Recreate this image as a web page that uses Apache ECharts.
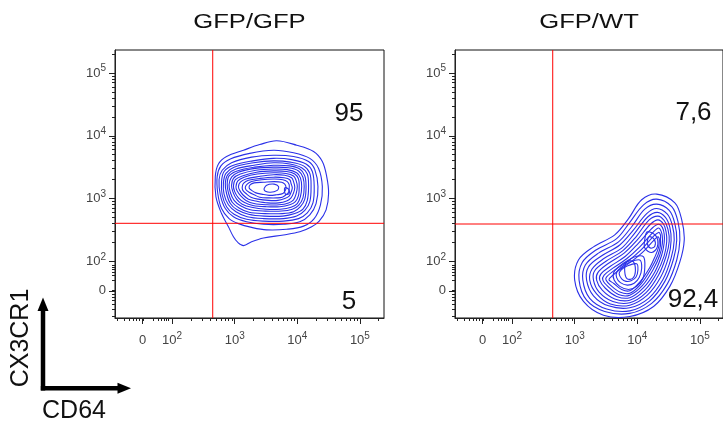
<!DOCTYPE html>
<html>
<head>
<meta charset="utf-8">
<script src="https://cdn.jsdelivr.net/npm/echarts@6.0.0/dist/echarts.min.js"></script>
<style>
html,body{margin:0;padding:0;background:#fff;}
#chart{width:723px;height:423px;}
</style>
</head>
<body>
<div id="chart"></div>
<script>
// ---------- data (axis units: display decades of a biexponential scale) ----------
const panelTitles = ['GFP/GFP', 'GFP/WT'];
const upperRightPct = ['95', '7,6'];
const lowerRightPct = ['5', '92,4'];
const gateCD64 = [2.649, 2.649];
const gateCX3CR1 = [2.605, 2.594];

const majorTickValues = [1.53, 2, 3, 4, 5];
const majorTickLabels = ['0', '10^2', '10^3', '10^4', '10^5'];
const linearRegionTicks = [1.128, 1.239, 1.318, 1.383, 1.430, 1.478, 1.52, 1.54,
  1.701, 1.780, 1.829, 1.877, 1.909, 1.940];

// contour rings, GFP/GFP panel: [CD64, CX3CR1]
const gfpGfpContours = [
  [[3.67,3.92],[3.99,3.85],[4.26,3.75],[4.40,3.59],[4.47,3.35],[4.50,3.08],[4.46,2.82],[4.35,2.64],[4.23,2.55],[4.04,2.47],[3.78,2.42],[3.46,2.37],[3.27,2.31],[3.14,2.25],[3.05,2.30],[2.98,2.39],[2.90,2.55],[2.79,2.76],[2.70,3.03],[2.69,3.35],[2.74,3.55],[2.87,3.67],[3.14,3.77],[3.40,3.86]],
  [[3.62,3.77],[3.94,3.73],[4.20,3.64],[4.34,3.48],[4.40,3.19],[4.37,2.90],[4.27,2.68],[4.10,2.56],[3.83,2.51],[3.51,2.50],[3.27,2.54],[3.06,2.60],[2.91,2.68],[2.79,2.84],[2.73,3.08],[2.72,3.35],[2.78,3.52],[2.93,3.63],[3.24,3.72]],
  [[3.62,3.69],[3.94,3.67],[4.18,3.59],[4.28,3.46],[4.33,3.19],[4.30,2.92],[4.20,2.74],[4.04,2.63],[3.78,2.59],[3.46,2.59],[3.19,2.63],[2.98,2.71],[2.85,2.84],[2.77,3.06],[2.75,3.30],[2.80,3.45],[2.95,3.57],[3.27,3.66]],
  [[3.62,3.64],[3.91,3.62],[4.14,3.55],[4.24,3.43],[4.27,3.19],[4.25,2.93],[4.16,2.77],[4.02,2.68],[3.78,2.64],[3.46,2.64],[3.19,2.67],[2.99,2.75],[2.87,2.87],[2.80,3.06],[2.79,3.27],[2.83,3.43],[2.98,3.53],[3.29,3.60]],
  [[3.62,3.60],[3.89,3.58],[4.10,3.52],[4.20,3.40],[4.22,3.19],[4.20,2.95],[4.12,2.81],[3.99,2.72],[3.78,2.68],[3.46,2.68],[3.20,2.71],[3.02,2.79],[2.90,2.90],[2.83,3.07],[2.82,3.25],[2.86,3.40],[2.99,3.50],[3.30,3.57]],
  [[3.62,3.57],[3.88,3.55],[4.07,3.49],[4.16,3.39],[4.18,3.19],[4.16,2.97],[4.09,2.83],[3.96,2.76],[3.77,2.72],[3.47,2.72],[3.22,2.75],[3.04,2.82],[2.93,2.92],[2.87,3.08],[2.85,3.24],[2.89,3.38],[3.02,3.47],[3.31,3.53]],
  [[3.62,3.53],[3.87,3.52],[4.04,3.47],[4.12,3.36],[4.14,3.19],[4.12,2.99],[4.05,2.87],[3.94,2.79],[3.76,2.76],[3.48,2.76],[3.23,2.78],[3.07,2.85],[2.96,2.94],[2.90,3.09],[2.88,3.23],[2.91,3.36],[3.04,3.44],[3.32,3.50]],
  [[3.62,3.50],[3.86,3.49],[4.02,3.44],[4.09,3.34],[4.11,3.19],[4.09,3.01],[4.02,2.89],[3.92,2.83],[3.75,2.80],[3.49,2.80],[3.25,2.82],[3.10,2.88],[2.99,2.97],[2.93,3.10],[2.91,3.22],[2.95,3.34],[3.06,3.42],[3.33,3.48]],
  [[3.62,3.47],[3.84,3.46],[3.99,3.41],[4.05,3.33],[4.07,3.19],[4.05,3.03],[4.00,2.92],[3.90,2.86],[3.73,2.83],[3.50,2.83],[3.27,2.86],[3.12,2.91],[3.03,2.99],[2.97,3.11],[2.95,3.21],[2.98,3.32],[3.09,3.39],[3.34,3.45]],
  [[3.62,3.44],[3.83,3.43],[3.96,3.39],[4.02,3.31],[4.03,3.19],[4.02,3.05],[3.97,2.95],[3.88,2.90],[3.72,2.87],[3.51,2.87],[3.29,2.89],[3.15,2.94],[3.06,3.01],[3.00,3.11],[2.98,3.20],[3.01,3.30],[3.12,3.36],[3.35,3.42]],
  [[3.62,3.41],[3.82,3.40],[3.94,3.36],[3.98,3.29],[4.00,3.19],[3.98,3.07],[3.94,2.98],[3.86,2.93],[3.71,2.90],[3.52,2.90],[3.31,2.92],[3.18,2.97],[3.10,3.04],[3.04,3.12],[3.02,3.19],[3.05,3.28],[3.15,3.34],[3.36,3.39]],
  [[3.62,3.38],[3.80,3.37],[3.91,3.33],[3.94,3.27],[3.96,3.18],[3.94,3.09],[3.90,3.01],[3.83,2.96],[3.70,2.93],[3.53,2.93],[3.34,2.96],[3.22,2.99],[3.13,3.06],[3.08,3.13],[3.06,3.19],[3.09,3.26],[3.18,3.31],[3.38,3.35]],
  [[3.62,3.34],[3.79,3.33],[3.88,3.30],[3.90,3.24],[3.92,3.17],[3.90,3.10],[3.87,3.04],[3.80,3.00],[3.69,2.97],[3.54,2.97],[3.37,2.99],[3.26,3.02],[3.18,3.08],[3.13,3.13],[3.12,3.18],[3.14,3.24],[3.22,3.29],[3.40,3.32]],
  [[3.63,3.31],[3.77,3.30],[3.84,3.27],[3.87,3.22],[3.87,3.16],[3.86,3.10],[3.82,3.06],[3.76,3.02],[3.67,3.01],[3.55,3.01],[3.40,3.02],[3.31,3.06],[3.23,3.10],[3.18,3.14],[3.17,3.18],[3.20,3.23],[3.27,3.27],[3.43,3.30]],
  [[3.63,3.27],[3.75,3.26],[3.80,3.23],[3.82,3.18],[3.81,3.13],[3.77,3.08],[3.67,3.06],[3.55,3.05],[3.43,3.07],[3.34,3.09],[3.27,3.13],[3.23,3.17],[3.25,3.22],[3.31,3.25],[3.46,3.26]],
  [[3.51,3.21],[3.63,3.23],[3.70,3.19],[3.68,3.13],[3.56,3.10],[3.47,3.14]],
  [[3.80,3.17],[3.86,3.15],[3.87,3.08],[3.81,3.07]]
];

// contour rings, GFP/WT panel: [CD64, CX3CR1]
const gfpWtContours = [
  [[4.31,3.07],[4.60,2.93],[4.71,2.66],[4.75,2.34],[4.68,1.99],[4.52,1.60],[4.26,1.28],[3.88,1.12],[3.46,1.14],[3.14,1.36],[3.00,1.70],[3.06,2.02],[3.30,2.23],[3.64,2.42],[3.86,2.68],[4.07,2.98]],
  [[4.31,2.99],[4.55,2.87],[4.65,2.63],[4.68,2.34],[4.63,2.02],[4.48,1.64],[4.23,1.33],[3.88,1.17],[3.48,1.20],[3.19,1.38],[3.07,1.70],[3.12,1.98],[3.34,2.18],[3.67,2.36],[3.88,2.62],[4.10,2.90]],
  [[4.31,2.91],[4.51,2.81],[4.60,2.60],[4.63,2.34],[4.58,2.04],[4.44,1.68],[4.20,1.37],[3.88,1.21],[3.51,1.24],[3.24,1.41],[3.13,1.70],[3.17,1.94],[3.38,2.13],[3.70,2.31],[3.91,2.55],[4.12,2.83]],
  [[4.31,2.84],[4.48,2.75],[4.56,2.57],[4.59,2.34],[4.54,2.05],[4.41,1.71],[4.18,1.41],[3.88,1.26],[3.54,1.29],[3.30,1.45],[3.19,1.70],[3.22,1.91],[3.42,2.08],[3.72,2.26],[3.94,2.50],[4.15,2.76]],
  [[4.32,2.78],[4.45,2.70],[4.52,2.54],[4.54,2.33],[4.50,2.07],[4.37,1.74],[4.16,1.46],[3.88,1.30],[3.57,1.32],[3.35,1.48],[3.24,1.70],[3.28,1.88],[3.46,2.04],[3.75,2.21],[3.96,2.45],[4.17,2.71]],
  [[4.33,2.72],[4.43,2.65],[4.49,2.51],[4.51,2.32],[4.46,2.08],[4.34,1.78],[4.14,1.50],[3.88,1.34],[3.61,1.36],[3.39,1.51],[3.30,1.70],[3.32,1.85],[3.50,2.00],[3.77,2.17],[3.98,2.39],[4.19,2.66]],
  [[4.33,2.66],[4.42,2.59],[4.46,2.47],[4.47,2.31],[4.43,2.09],[4.31,1.81],[4.12,1.54],[3.88,1.38],[3.64,1.40],[3.44,1.54],[3.35,1.70],[3.37,1.82],[3.53,1.96],[3.79,2.13],[4.00,2.34],[4.21,2.59]],
  [[4.34,2.59],[4.40,2.54],[4.43,2.43],[4.43,2.30],[4.39,2.10],[4.28,1.83],[4.10,1.58],[3.88,1.42],[3.67,1.44],[3.49,1.57],[3.40,1.70],[3.42,1.80],[3.57,1.92],[3.81,2.08],[4.02,2.29],[4.24,2.53]],
  [[4.34,2.53],[4.38,2.48],[4.40,2.39],[4.40,2.28],[4.36,2.10],[4.25,1.86],[4.08,1.61],[3.88,1.46],[3.70,1.47],[3.53,1.60],[3.45,1.70],[3.47,1.78],[3.61,1.89],[3.83,2.04],[4.04,2.23],[4.25,2.46]],
  [[4.34,2.46],[4.37,2.42],[4.37,2.35],[4.37,2.25],[4.33,2.10],[4.22,1.88],[4.06,1.64],[3.88,1.49],[3.72,1.51],[3.57,1.62],[3.50,1.70],[3.51,1.75],[3.64,1.86],[3.85,2.00],[4.06,2.18],[4.25,2.39]],
  [[4.33,2.39],[4.35,2.36],[4.35,2.30],[4.34,2.22],[4.29,2.09],[4.20,1.90],[4.05,1.68],[3.88,1.53],[3.75,1.55],[3.62,1.65],[3.55,1.70],[3.56,1.73],[3.67,1.83],[3.87,1.97],[4.07,2.13],[4.26,2.33]],
  [[4.10,2.07],[4.12,1.91],[4.09,1.73],[3.99,1.60],[3.86,1.55],[3.72,1.60],[3.63,1.70],[3.62,1.81],[3.70,1.91],[3.86,2.02],[3.99,2.08]],
  [[4.04,2.02],[4.07,1.89],[4.03,1.74],[3.95,1.65],[3.84,1.62],[3.73,1.66],[3.67,1.74],[3.67,1.82],[3.74,1.90],[3.87,1.98]],
  [[3.99,1.96],[4.01,1.86],[3.98,1.75],[3.90,1.69],[3.82,1.68],[3.75,1.72],[3.71,1.80],[3.74,1.86],[3.83,1.92]],
  [[3.82,1.98],[3.93,2.00],[3.97,1.86],[3.93,1.73],[3.84,1.72],[3.80,1.83]],
  [[4.16,2.47],[4.30,2.40],[4.32,2.23],[4.23,2.14],[4.12,2.21],[4.12,2.35]],
  [[4.19,2.39],[4.27,2.35],[4.28,2.24],[4.21,2.21],[4.16,2.29]]
];

// ---------- styling / layout ----------
const FONT = '"Liberation Sans", Arial, Helvetica, sans-serif';
const LINE_BLUE = '#2a30e8';
const GATE_RED = '#ff0000';
const TICK_COLOR = '#222';
const LABEL_COLOR = '#444';
const X_MIN = 1.088, X_MAX = 5.385, Y_MIN = 1.096, Y_MAX = 5.367;
const PANEL_LEFT = [115, 455], PANEL_TOP = 50, PANEL_W = [269, 268], PANEL_H = 268;
const xMaxFor = g => X_MIN + (X_MAX - X_MIN) * PANEL_W[g] / PANEL_W[0];

const minorTickValues = linearRegionTicks.slice();
[2, 3, 4].forEach(n => { for (let k = 2; k <= 9; k++) minorTickValues.push(n + Math.log10(k)); });
minorTickValues.push(5 + Math.log10(2));

function labelFmt(v) {
  const i = majorTickValues.findIndex(t => Math.abs(t - v) < 1e-6);
  if (i < 0) return '';
  const lab = majorTickLabels[i];
  if (lab.indexOf('^') < 0) return '{b|' + lab + '}';
  const parts = lab.split('^');
  return '{b|' + parts[0] + '}{s|' + parts[1] + '}';
}
const rich = {
  b: { fontSize: 13, lineHeight: 19, color: LABEL_COLOR, fontFamily: FONT },
  s: { fontSize: 10, lineHeight: 10, verticalAlign: 'top', color: LABEL_COLOR, fontFamily: FONT }
};

function makeAxes(dim, gridIndex, min, max) {
  const major = {
    type: 'value', gridIndex, min, max,
    position: dim === 'x' ? 'bottom' : 'left',
    axisLine: { show: true, onZero: false, lineStyle: { color: TICK_COLOR, width: 1 } },
    axisTick: { show: true, inside: false, length: 6, customValues: majorTickValues, lineStyle: { color: TICK_COLOR, width: 1 } },
    axisLabel: { show: true, customValues: majorTickValues, formatter: labelFmt, rich, margin: dim === 'x' ? 13 : 9, hideOverlap: false },
    splitLine: { show: false }
  };
  const minor = {
    type: 'value', gridIndex, min, max,
    position: dim === 'x' ? 'bottom' : 'left',
    axisLine: { show: false, onZero: false },
    axisTick: { show: true, inside: false, length: 3, customValues: minorTickValues, lineStyle: { color: TICK_COLOR, width: 1 } },
    axisLabel: { show: false },
    splitLine: { show: false }
  };
  return [major, minor];
}

const xAxes = [], yAxes = [];
[0, 1].forEach(g => {
  xAxes.push(...makeAxes('x', g, X_MIN, xMaxFor(g)));
  yAxes.push(...makeAxes('y', g, Y_MIN, Y_MAX));
});

function contourSeries(rings, g) {
  return {
    type: 'custom',
    xAxisIndex: g * 2, yAxisIndex: g * 2,
    silent: true,
    clip: true,
    z: 2,
    data: rings.map((r, i) => [r[0][0], r[0][1], i]),
    encode: { x: 0, y: 1 },
    renderItem: function (params, api) {
      const ring = rings[api.value(2)];
      const pts = ring.map(p => api.coord(p));
      return {
        type: 'polygon',
        shape: { points: pts, smooth: 0.35 },
        style: { fill: 'none', stroke: LINE_BLUE, lineWidth: 1.1 },
        silent: true
      };
    }
  };
}

function gateSeries(g) {
  const base = {
    type: 'line', xAxisIndex: g * 2, yAxisIndex: g * 2,
    symbol: 'none', silent: true, z: 3,
    lineStyle: { color: GATE_RED, width: 1 }, itemStyle: { color: GATE_RED }
  };
  return [
    Object.assign({}, base, { data: [[gateCD64[g], Y_MIN], [gateCD64[g], Y_MAX]] }),
    Object.assign({}, base, { data: [[X_MIN, gateCX3CR1[g]], [xMaxFor(g), gateCX3CR1[g]]] })
  ];
}

const graphics = [];
const titleX = [249.5, 589];
panelTitles.forEach((t, g) => {
  graphics.push({ type: 'text', x: titleX[g], y: 22, scaleX: 1.28,
    style: { text: t, font: '20px ' + FONT, fill: '#111', textAlign: 'center', textVerticalAlign: 'middle' } });
});
const upPos = [[349, 114], [693.5, 113]], lowPos = [[349, 302], [693, 299.5]];
[0, 1].forEach(g => {
  graphics.push({ type: 'text', x: upPos[g][0], y: upPos[g][1],
    style: { text: upperRightPct[g], font: '26px ' + FONT, fill: '#111', textAlign: 'center', textVerticalAlign: 'middle' } });
  graphics.push({ type: 'text', x: lowPos[g][0], y: lowPos[g][1],
    style: { text: lowerRightPct[g], font: '26px ' + FONT, fill: '#111', textAlign: 'center', textVerticalAlign: 'middle' } });
});
// axis-direction arrows
graphics.push({ type: 'line', shape: { x1: 43, y1: 390.5, x2: 43, y2: 308 }, style: { stroke: '#000', lineWidth: 4.5 } });
graphics.push({ type: 'polygon', shape: { points: [[43, 297.5], [37.5, 311], [48.5, 311]] }, style: { fill: '#000' } });
graphics.push({ type: 'line', shape: { x1: 40.8, y1: 388.3, x2: 121, y2: 388.3 }, style: { stroke: '#000', lineWidth: 4.5 } });
graphics.push({ type: 'polygon', shape: { points: [[131, 388.3], [117.5, 382.8], [117.5, 393.8]] }, style: { fill: '#000' } });
graphics.push({ type: 'text', x: 21, y: 338, rotation: Math.PI / 2,
  style: { text: 'CX3CR1', font: '25px ' + FONT, fill: '#111', textAlign: 'center', textVerticalAlign: 'middle' } });
graphics.push({ type: 'text', x: 74, y: 411.5,
  style: { text: 'CD64', font: '25px ' + FONT, fill: '#111', textAlign: 'center', textVerticalAlign: 'middle' } });

const chart = echarts.init(document.getElementById('chart'), null, { renderer: 'canvas' });
chart.setOption({
  animation: false,
  backgroundColor: '#ffffff',
  textStyle: { fontFamily: FONT },
  grid: [0, 1].map(g => ({
    left: PANEL_LEFT[g], top: PANEL_TOP, width: PANEL_W[g], height: PANEL_H,
    show: true, borderColor: '#111', borderWidth: 1, backgroundColor: 'transparent',
    containLabel: false, outerBoundsMode: 'none'
  })),
  xAxis: xAxes,
  yAxis: yAxes,
  series: [contourSeries(gfpGfpContours, 0), contourSeries(gfpWtContours, 1)]
    .concat(gateSeries(0), gateSeries(1)),
  graphic: graphics
});
</script>
</body>
</html>
